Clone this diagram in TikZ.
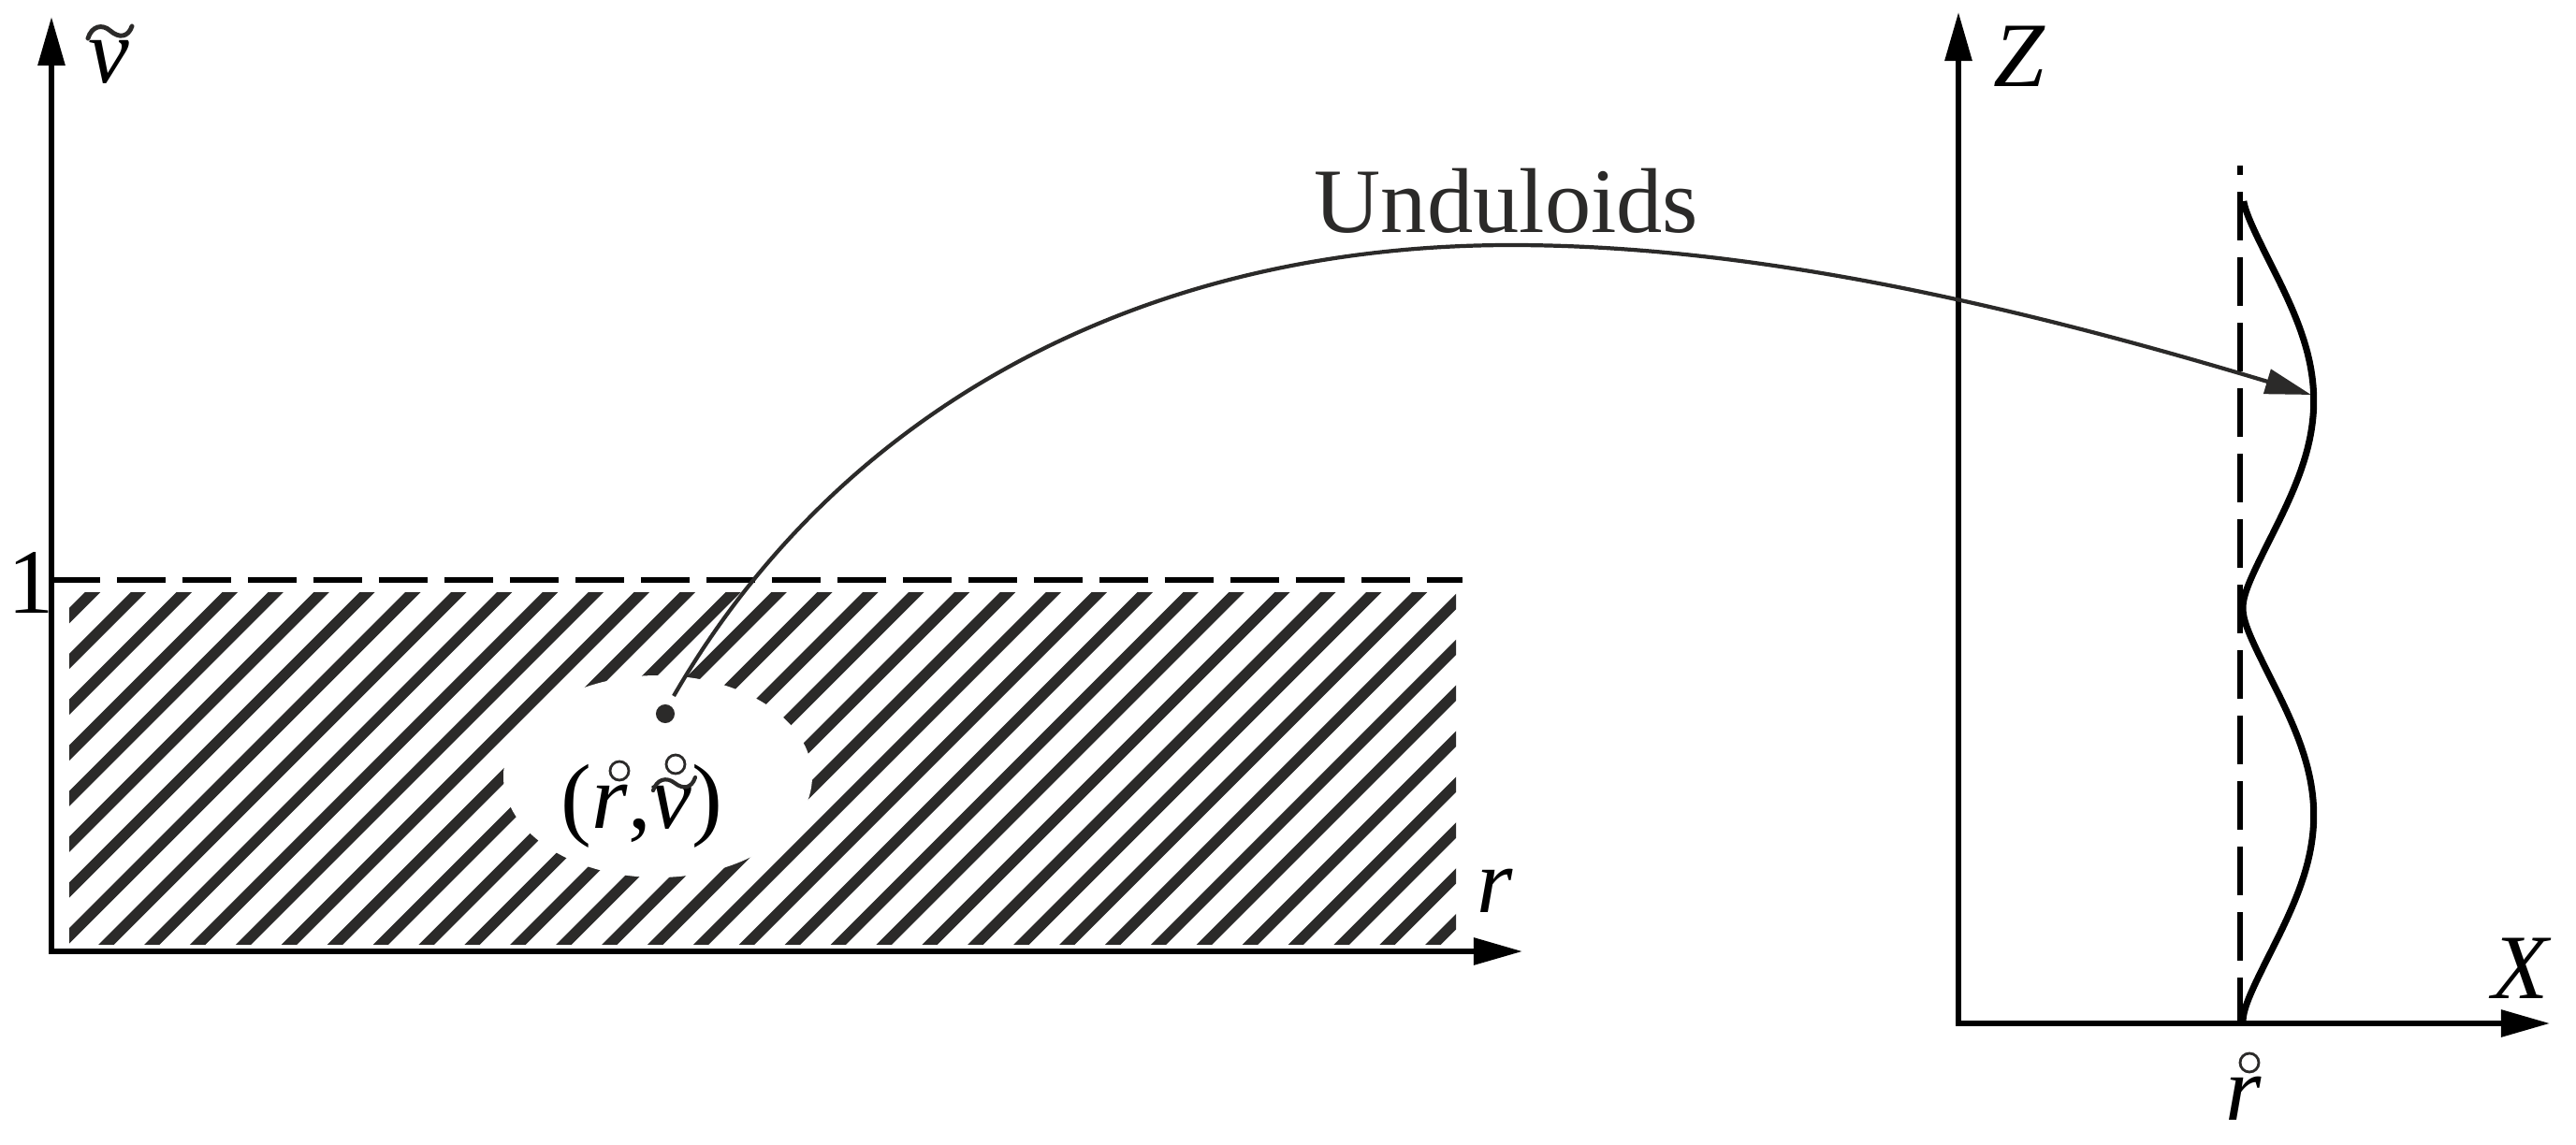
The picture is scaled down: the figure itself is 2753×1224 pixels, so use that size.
\RequirePackage{fix-cm}
\documentclass[tikz,border=0pt]{standalone}
\usepackage{fontspec}
\setmainfont{Liberation Serif}
\usetikzlibrary{arrows.meta}
\definecolor{dgrey}{HTML}{2B2A29}
\begin{document}
\begin{tikzpicture}[x=0.01cm, y=-0.01cm,
  font=\fontsize{28}{33}\selectfont,
  axis/.style={line width=1.6pt, -{Triangle[length=14.8pt,width=8pt]}},
  hatchline/.style={dgrey, line width=3.3pt},
  dashline/.style={line width=1.6pt, dash pattern=on 14.8pt off 5.1pt},
  maparrow/.style={dgrey, line width=1.2pt, -{Triangle[length=14pt,width=7.6pt]}},
  undul/.style={line width=2pt, line join=round},
  lbl/.style={inner sep=0pt, anchor=base},
  ringmark/.style={dgrey, line width=0.8pt},
  tildemark/.style={dgrey, line width=1.2pt, line cap=round}]
\useasboundingbox (0,0) rectangle (2753,1224);
\fill[white] (0,0) rectangle (2753,1224);

% hatched region
\begin{scope}
  \clip (74,633) rectangle (1556,1009);
  \foreach \k in {-2,...,38} {
    \draw[hatchline] ({781+48.9*\k-1040},1040) -- ({781+48.9*\k-600},600);
  }
\end{scope}
\fill[white] (703,830) ellipse [x radius=165, y radius=108];

% left axes
\coordinate (O1) at (55,1017);
\coordinate (Vtip) at (55,18);
\coordinate (Rtip) at (1627,1017);
\coordinate (Rstart) at (52,1017);
\draw[axis] (O1) -- (Vtip);
\draw[axis] (Rstart) -- (Rtip);
\coordinate (D1a) at (55,620);
\coordinate (D1b) at (1563,620);
\draw[dashline] (D1a) -- (D1b);

\node[lbl] (nu) at (116,88) {\itshape ν};
\draw[tildemark, line width=1.4pt] (94,41) .. controls (98,28) and (109,25) .. (118,33)
  .. controls (127,41) and (137,40) .. (141,28);
\node[lbl] (one) at (33,655) {1};
\node[lbl] (rlab) at (1598,975) {\itshape r};

% point and label
\node[circle, fill=dgrey, inner sep=0pt, minimum size=5.7pt] (dot) at (711,763) {};
\node[lbl] (pt) at (686,885) {(\textit{r},\textit{ν})};
\draw[ringmark] (662,824) circle [radius=10];
\draw[tildemark] (698,845) .. controls (702,833) and (712,830) .. (721,837)
  .. controls (730,844) and (739,843) .. (743,831);
\draw[ringmark] (722,817) circle [radius=10];

% right axes
\coordinate (O2) at (2093,1094);
\coordinate (Ztip) at (2093,13);
\coordinate (Xstart) at (2090,1094);
\coordinate (Xtip) at (2725,1094);
\draw[axis] (O2) -- (Ztip);
\draw[axis] (Xstart) -- (Xtip);
\node[lbl] (Zlab) at (2158,92) {\itshape Z};
\node[lbl] (Xlab) at (2694,1067) {\itshape X};
\node[lbl] (r0) at (2398,1197) {\itshape r};
\draw[ringmark] (2404,1136) circle [radius=10];

\coordinate (D2a) at (2394,177);
\coordinate (D2b) at (2394,1094);
\draw[dashline, dash phase=11.9pt] (D2a) -- (D2b);

% unduloid profile
\draw[undul] plot[domain=-176.7:180, samples=300]
  ({2397+84*(0.75*(sqrt(sin(\x)*sin(\x)+0.02)-0.1414)+0.25*sin(\x)*sin(\x))}, {650+2.4611*\x});

% mapping arrow
\coordinate (ustart) at (720,744);
\coordinate (upeak) at (1615,262);
\coordinate (utip) at (2470,422);
\draw[maparrow] (ustart) .. controls (895,441) and (1215,262) .. (upeak)
  .. controls (1865,262) and (2135,321) .. (utip);
\node[lbl, text=dgrey] (und) at (1610,248) {Unduloids};
\end{tikzpicture}
\end{document}
